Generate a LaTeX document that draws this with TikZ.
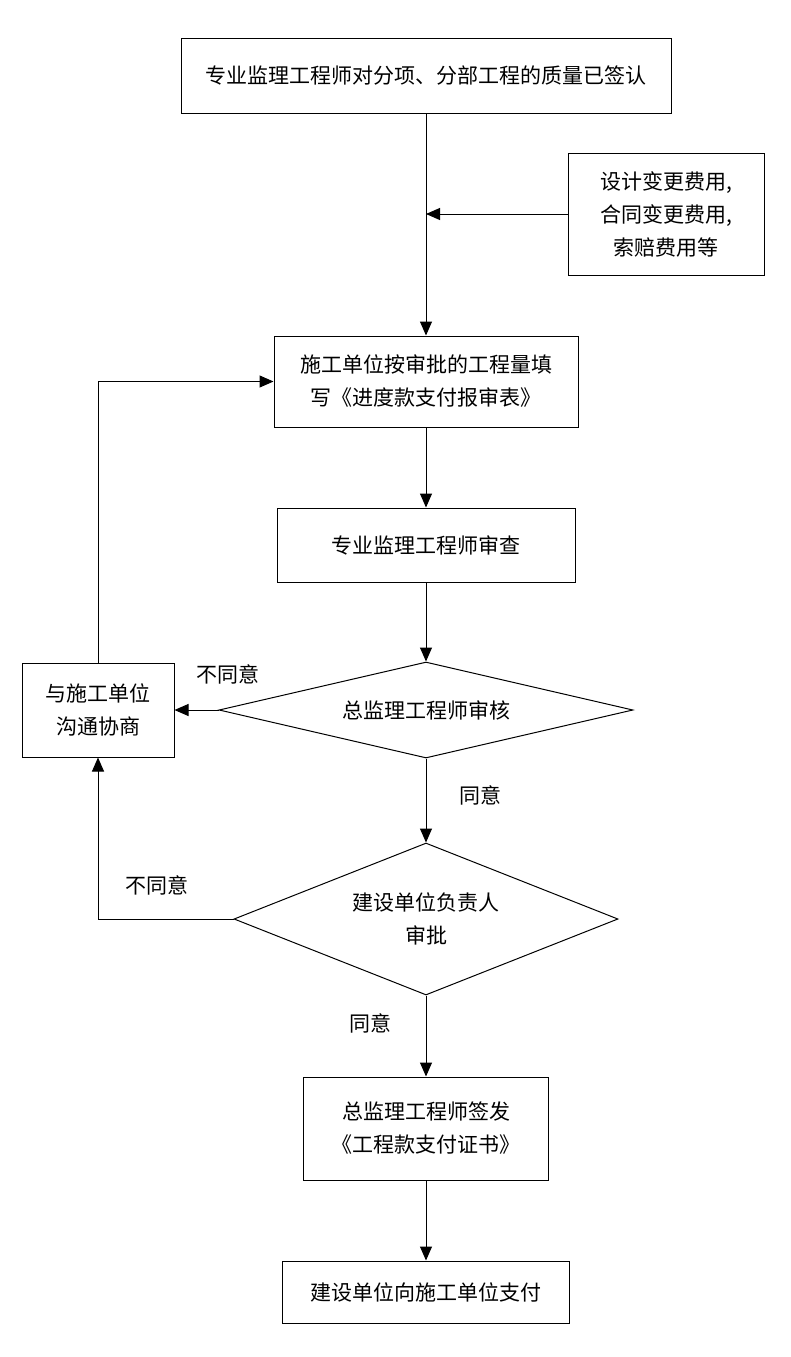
\documentclass[tikz,border=0pt]{standalone}
\usepackage{fontspec}
\newfontfamily\cjk{Noto Sans CJK SC}
\usetikzlibrary{shapes.geometric,arrows.meta}
\begin{document}
\begin{tikzpicture}[x=1pt,y=-1pt,
    every node/.style={font=\cjk\fontsize{21}{33}\selectfont, align=center},
    box/.style={draw, line width=1pt, inner sep=0pt},
    choice/.style={draw, diamond, line width=1pt, inner sep=0pt, aspect=#1},
    arr/.style={-{Triangle[length=14pt,width=12pt]}, line width=1pt}]
  \useasboundingbox (0,0) rectangle (790,1357);
  \node[box, minimum width=490pt, minimum height=75pt] (top) at (426,75.5)
    {专业监理工程师对分项、分部工程的质量已签认};
  \node[box, minimum width=196pt, minimum height=122pt] (extra) at (666,214)
    {设计变更费用,\\合同变更费用,\\索赔费用等};
  \node[box, minimum width=304pt, minimum height=91pt] (apply) at (426,381.5)
    {施工单位按审批的工程量填\\写《进度款支付报审表》};
  \node[box, minimum width=298pt, minimum height=74pt] (check) at (426,545)
    {专业监理工程师审查};
  \node[choice=4.31, minimum width=414pt, minimum height=96pt] (chief) at (426,710)
    {总监理工程师审核};
  \node[box, minimum width=152pt, minimum height=94pt] (talk) at (98,710)
    {与施工单位\\沟通协商};
  \node[choice=2.53, minimum width=384pt, minimum height=152pt] (owner) at (426,919)
    {建设单位负责人\\审批};
  \node[box, minimum width=245pt, minimum height=103pt] (cert) at (426,1128.5)
    {总监理工程师签发\\《工程款支付证书》};
  \node[box, minimum width=287pt, minimum height=62pt] (pay) at (426,1292)
    {建设单位向施工单位支付};
  % labels
  \node (no1) at (228,674) {不同意};
  \node (yes1) at (480,795) {同意};
  \node (no2) at (157,885) {不同意};
  \node (yes2) at (370,1023) {同意};
  \coordinate (join) at (top.south |- extra.west);
  \begin{scope}[arr]
    \draw (top.south) -- (apply.north);
    \draw (extra.west) -- (join);
    \draw (apply.south) -- (check.north);
    \draw (check.south) -- (chief.north);
    \draw (chief.west) -- (talk.east);
    \draw (talk.north) |- (apply.west);
    \draw (chief.south) -- (owner.north);
    \draw (owner.west) -| (talk.south);
    \draw (owner.south) -- (cert.north);
    \draw (cert.south) -- (pay.north);
  \end{scope}
\end{tikzpicture}
\end{document}
